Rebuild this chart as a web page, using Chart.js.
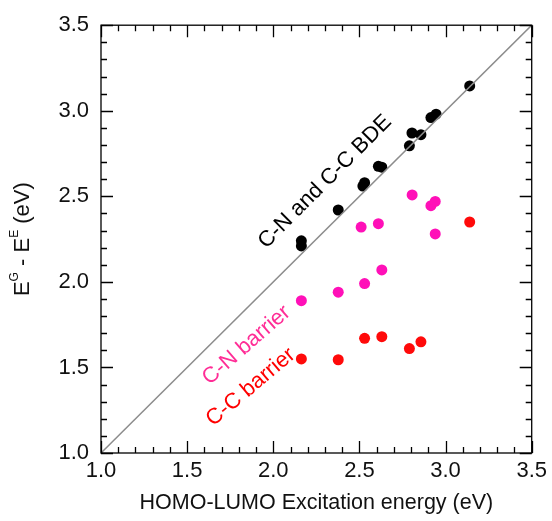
<!DOCTYPE html>
<html>
<head>
<meta charset="utf-8">
<script src="https://cdn.jsdelivr.net/npm/chart.js@4"></script>
<style>
  html, body { margin: 0; padding: 0; background: #fff; }
  #wrap { width: 552px; height: 521px; }
</style>
</head>
<body>
<div id="wrap"><canvas id="chart"></canvas></div>
<script>
// identity line
const diagX = [1.0, 3.5];
const diagY = [1.0, 3.5];

// C-N and C-C BDE (black)
const bdeX = [2.163, 2.163, 2.377, 2.52, 2.53, 2.61, 2.63, 2.79, 2.805, 2.857, 2.915, 2.945, 3.14];
const bdeY = [2.24, 2.21, 2.42, 2.56, 2.58, 2.675, 2.67, 2.795, 2.87, 2.86, 2.96, 2.98, 3.145];

// C-N barrier (magenta)
const cnX = [2.163, 2.377, 2.51, 2.53, 2.61, 2.63, 2.806, 2.915, 2.94, 2.94];
const cnY = [1.89, 1.94, 2.32, 1.99, 2.34, 2.07, 2.508, 2.445, 2.47, 2.28];

// C-C barrier (red)
const ccX = [2.163, 2.377, 2.53, 2.63, 2.79, 2.857, 3.14];
const ccY = [1.55, 1.545, 1.67, 1.68, 1.61, 1.65, 2.35];

const axisMin = 1.0;
const axisMax = 3.5;
const xTitle = 'HOMO-LUMO Excitation energy (eV)';

const FONT = '"Liberation Sans", Arial, Helvetica, sans-serif';
const pts = (xs, ys) => xs.map((x, i) => ({ x, y: ys[i] }));

// inward ticks on all four sides + frame + y title + curve labels
const framePlugin = {
  id: 'frame',
  afterDatasetsDraw(chart) {
    const { ctx, chartArea: a, scales: { x, y } } = chart;
    ctx.save();
    ctx.strokeStyle = '#000';
    ctx.lineWidth = 1.3;
    ctx.strokeRect(a.left, a.top, a.right - a.left, a.bottom - a.top);
    ctx.beginPath();
    for (let i = 10; i <= 35; i++) {
      const v = i / 10;
      const len = i % 5 === 0 ? 12 : 6;
      const px = Math.round(x.getPixelForValue(v)) + 0.5;
      const py = Math.round(y.getPixelForValue(v)) + 0.5;
      ctx.moveTo(px, a.bottom); ctx.lineTo(px, a.bottom - len);
      ctx.moveTo(px, a.top); ctx.lineTo(px, a.top + len);
      ctx.moveTo(a.left, py); ctx.lineTo(a.left + len, py);
      ctx.moveTo(a.right, py); ctx.lineTo(a.right - len, py);
    }
    ctx.stroke();

    // y axis title with superscripts
    const parts = [
      ['E', 22, 0], ['G', 12, -8], [' - E', 22, 0], ['E', 12, -8], [' (eV)', 22, 0]
    ];
    ctx.translate(23, (a.top + a.bottom) / 2);
    ctx.rotate(-Math.PI / 2);
    ctx.fillStyle = '#111';
    ctx.textBaseline = 'middle';
    let total = 0;
    parts.forEach(p => { ctx.font = p[1] + 'px ' + FONT; total += ctx.measureText(p[0]).width; });
    let cx = -total / 2;
    parts.forEach(p => {
      ctx.font = p[1] + 'px ' + FONT;
      ctx.fillText(p[0], cx, p[2]);
      cx += ctx.measureText(p[0]).width;
    });
    ctx.restore();

    // rotated labels
    const labels = [
      ['C-N and C-C BDE', 2.30, 2.585, '#000', 45],
      ['C-N barrier', 1.845, 1.63, '#ff2d96', 41],
      ['C-C barrier', 1.87, 1.385, '#ff0000', 40],
    ];
    labels.forEach(([t, lx, ly, col, ang]) => {
      ctx.save();
      ctx.translate(x.getPixelForValue(lx), y.getPixelForValue(ly));
      ctx.rotate(-ang * Math.PI / 180);
      ctx.font = '22px ' + FONT;
      ctx.fillStyle = col;
      ctx.textAlign = 'center';
      ctx.textBaseline = 'middle';
      ctx.fillText(t, 0, 0);
      ctx.restore();
    });
  }
};

const tickOpts = {
  stepSize: 0.5,
  color: '#111',
  font: { family: FONT, size: 22 },
  callback: v => v.toFixed(1),
};

new Chart(document.getElementById('chart'), {
  type: 'scatter',
  data: {
    datasets: [
      {
        data: pts(diagX, diagY),
        showLine: true,
        borderColor: '#8c8c8c',
        borderWidth: 1.5,
        pointRadius: 0,
      },
      {
        data: pts(bdeX, bdeY),
        backgroundColor: '#000',
        borderWidth: 0,
        pointRadius: 5.5,
      },
      {
        data: pts(cnX, cnY),
        backgroundColor: '#ff10b8',
        borderWidth: 0,
        pointRadius: 5.5,
      },
      {
        data: pts(ccX, ccY),
        backgroundColor: '#ff0a0a',
        borderWidth: 0,
        pointRadius: 5.5,
      },
    ],
  },
  options: {
    responsive: true,
    maintainAspectRatio: false,
    animation: false,
    layout: { padding: { top: 17, right: 19, left: 0, bottom: 0 } },
    plugins: { legend: { display: false }, tooltip: { enabled: false } },
    scales: {
      x: {
        type: 'linear',
        min: axisMin,
        max: axisMax,
        grid: { display: false, drawTicks: false },
        border: { display: false },
        ticks: { ...tickOpts, padding: 5, maxRotation: 0 },
        title: {
          display: true,
          text: xTitle,
          color: '#111',
          font: { family: FONT, size: 21.5 },
          padding: { top: 0, bottom: 5 },
        },
        afterFit: s => { s.height = 68; },
      },
      y: {
        type: 'linear',
        min: axisMin,
        max: axisMax,
        grid: { display: false, drawTicks: false },
        border: { display: false },
        ticks: { ...tickOpts, padding: 12 },
        afterFit: s => { s.width = 101; },
      },
    },
  },
  plugins: [framePlugin],
});
</script>
</body>
</html>
